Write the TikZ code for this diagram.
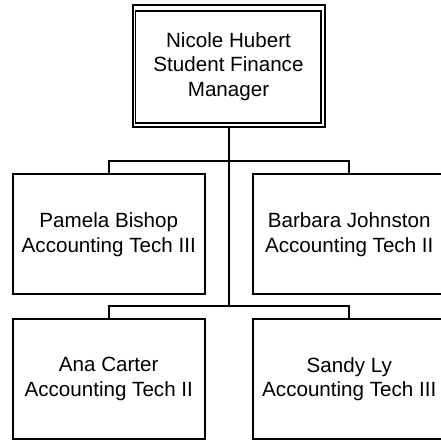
\documentclass[tikz,border=0pt]{standalone}
\usepackage{fontspec}
\setmainfont{Liberation Sans}
\begin{document}
\begin{tikzpicture}[x=1pt,y=1pt,
  box/.style={draw, line width=2pt, rectangle, minimum width=192.5pt, minimum height=120pt,
    align=center, inner sep=0pt, font=\fontsize{20.6}{24.5}\selectfont},
  mgrbox/.style={box, minimum width=192pt, minimum height=122pt},
  conn/.style={line width=2pt}]
\useasboundingbox (0,0) rectangle (441,442);
\clip (0,0) rectangle (441,442);
\node[mgrbox] (mgr) at (228.5,375.5) {Nicole Hubert\\Student Finance\\Manager};
\draw[line width=1.6pt] ([shift={(4,-6.5)}]mgr.north west) rectangle ([shift={(-4.5,5.5)}]mgr.south east);
\node[box] (pam) at (108.75,207.5) {Pamela Bishop\\Accounting Tech III};
\node[box] (bar) at (349.25,207.5) {Barbara Johnston\\Accounting Tech II};
\node[box] (ana) at (108.75,63) {Ana Carter\\Accounting Tech II};
\node[box] (san) at (349.25,63) {Sandy Ly\\Accounting Tech III};
\path (mgr.south |- ana.north) ++(0,12) coordinate (j2);
\draw[conn] (mgr.south) -- (j2);
\draw[conn] (pam.north) -- ++(0,12) -| (bar.north);
\draw[conn] (ana.north) -- ++(0,12) -| (san.north);
\end{tikzpicture}
\end{document}
